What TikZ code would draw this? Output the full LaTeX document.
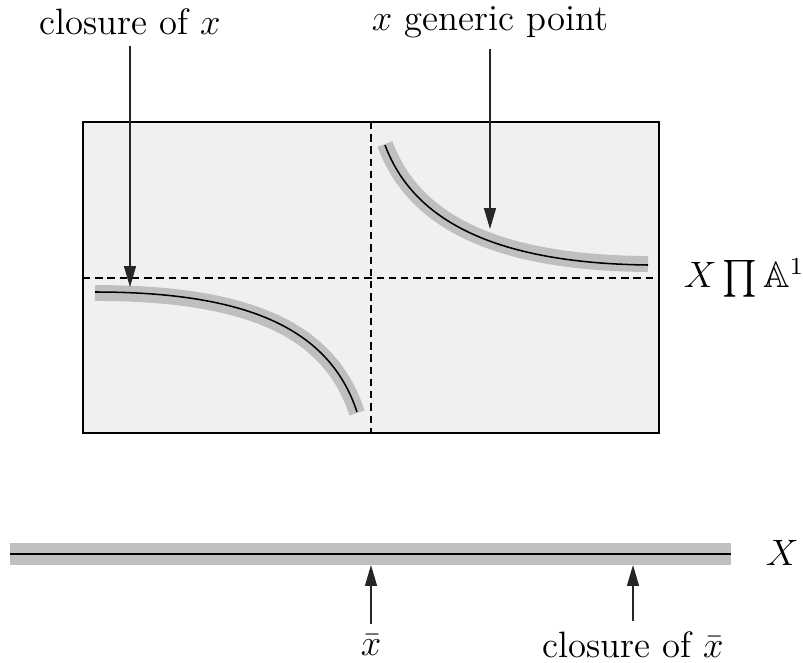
\documentclass[tikz,border=0pt]{standalone}
\usepackage{amsmath,amssymb}
\usepackage{tikz}
\usetikzlibrary{arrows.meta,positioning,calc}

\begin{document}
\begin{tikzpicture}[
    x=0.327pt, y=-0.327pt,
    every node/.style={font=\large},
    band/.style={line width=5.2pt, black!25},
    fibre/.style={line width=0.5pt, black},
    axis/.style={dashed, dash pattern=on 2.4pt off 1.6pt, line width=0.5pt},
    arr/.style={-{Triangle[length=6.8pt, width=3.9pt]}, line width=0.4pt, black!85}
]
\useasboundingbox (0,0) rectangle (803,663);

% the plane X x A^1
\draw[line width=0.6pt, fill=black!6] (83,122) rectangle (659,433);
\draw[axis] (371,122) -- (371,433);
\draw[axis] (83,278) -- (659,278);

% the two branches
\draw[band] (95,293) .. controls (250,293) and (330,330) .. (357,413);
\draw[fibre] (95,292) .. controls (250,292) and (330,330) .. (357,412);
\draw[band] (385,144) .. controls (410,212) and (480,263) .. (648,264);
\draw[fibre] (385,145) .. controls (410,212) and (480,263) .. (648,265);

% the line X
\draw[band, line width=7.2pt] (10,554) -- (731,554);
\draw[fibre] (10,554) -- (731,554);

% labels
\node (clx) at (130,22) {closure of $x$};
\node (gen) at (490,22) {$x$ generic point};
\node[anchor=west] (prod) at (673,278) {$X\prod\mathbb{A}^1$};
\node[anchor=west] (base) at (755,553) {$X$};
\node (xb) at (371,645) {$\bar{x}$};
\node (clxb) at (633,645) {closure of $\bar{x}$};

\coordinate (clxTip) at (130,287);
\coordinate (genTip) at (490,229);
\coordinate (xbTip) at (371,565);
\coordinate (clxbTip) at (633,565);

\draw[arr] (clx) -- (clxTip);
\draw[arr] (gen) -- (genTip);
\draw[arr] (xb) -- (xbTip);
\draw[arr] (clxb) -- (clxbTip);
\end{tikzpicture}
\end{document}
